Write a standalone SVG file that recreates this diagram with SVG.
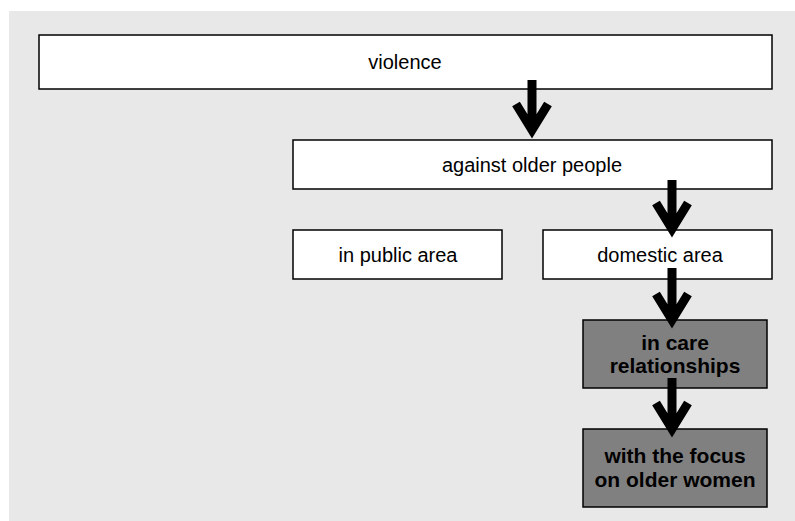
<svg xmlns="http://www.w3.org/2000/svg" width="795" height="521" viewBox="0 0 795 521">
<style>
.box{fill:#ffffff;stroke:#000;stroke-width:1.5}
.dark{fill:#808080;stroke:#000;stroke-width:1.5}
.t{font-family:"Liberation Sans",Arial,sans-serif;font-size:20px;fill:#000;text-anchor:middle}
.b{font-family:"Liberation Sans",Arial,sans-serif;font-size:21px;font-weight:bold;fill:#000;text-anchor:middle}
.arr{fill:none;stroke:#000;stroke-width:9;stroke-linejoin:miter}
</style>
<rect x="9" y="11" width="786" height="510" fill="#e8e8e8"/>
<g id="violence"><rect class="box" x="39" y="35" width="733" height="54"/><text class="t" x="405" y="69">violence</text></g>
<g id="against"><rect class="box" x="293" y="140" width="479" height="49"/><text class="t" x="532" y="172">against older people</text></g>
<g id="public"><rect class="box" x="293" y="230" width="209" height="49"/><text class="t" x="398" y="262">in public area</text></g>
<g id="domestic"><rect class="box" x="543" y="230" width="229" height="49"/><text class="t" x="660" y="262">domestic area</text></g>
<g id="care"><rect class="dark" x="583" y="320" width="184" height="68"/><text class="b" x="675" y="350">in care</text><text class="b" x="675" y="373">relationships</text></g>
<g id="women"><rect class="dark" x="583" y="429" width="184" height="78"/><text class="b" x="675" y="463">with the focus</text><text class="b" x="675" y="487">on older women</text></g>
<g id="connectors">
<path class="arr" d="M532,80 V128 M516,104 L532,130 L548,104"/>
<path class="arr" d="M672,180 V227 M656,203 L672,229 L688,203"/>
<path class="arr" d="M672,268 V318 M656,294 L672,320 L688,294"/>
<path class="arr" d="M672,378 V427 M656,403 L672,429 L688,403"/>
</g>
</svg>
